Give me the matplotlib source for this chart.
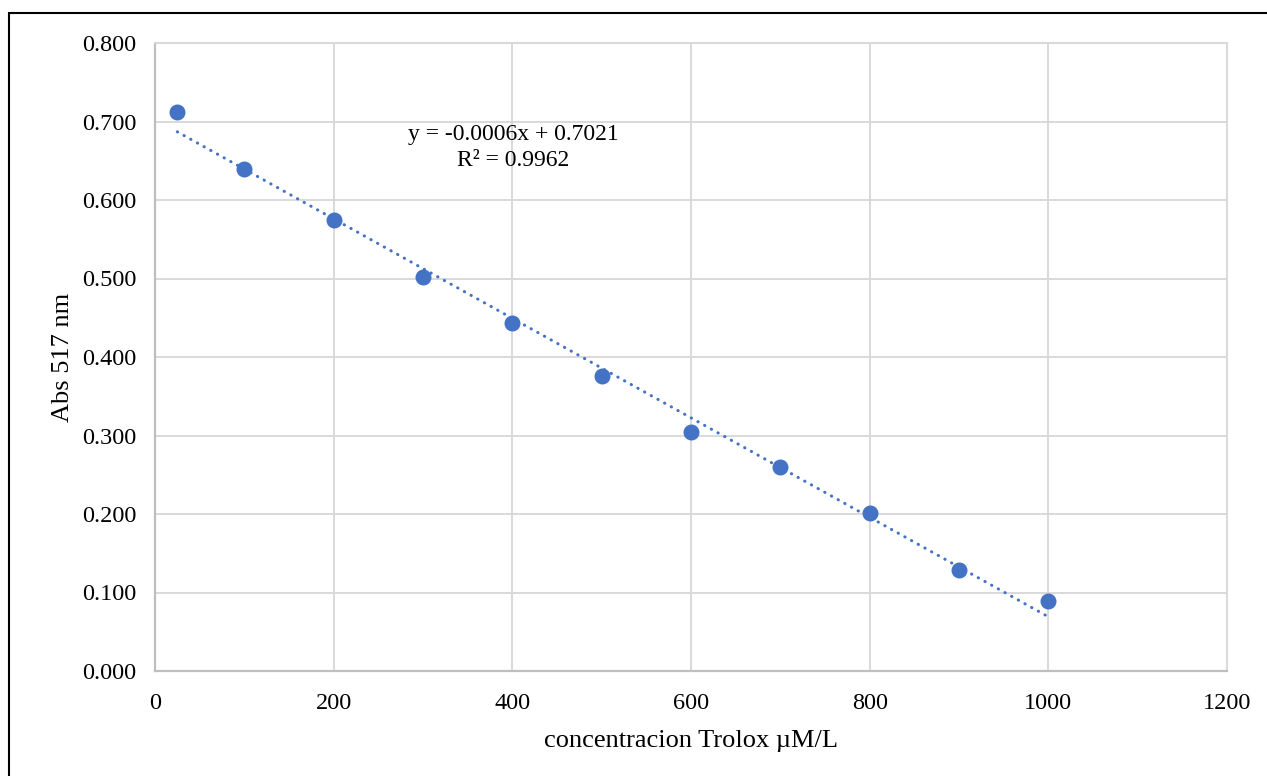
import numpy as np
import matplotlib
matplotlib.use('Agg')
import matplotlib.pyplot as plt
from matplotlib.patches import Rectangle

# concentration (uM/L) and absorbance at 517 nm
conc = [25, 100, 200, 300, 400, 500, 600, 700, 800, 900, 1000]
absorb = [0.712, 0.639, 0.574, 0.502, 0.443, 0.376, 0.304, 0.260, 0.201, 0.129, 0.089]
eq_text = 'y = -0.0006x + 0.7021\nR² = 0.9962'

plt.rcParams['font.family'] = ['Liberation Serif', 'DejaVu Serif']
blue = '#4472C4'

fig = plt.figure(figsize=(12.67, 7.76), dpi=100)
ax = fig.add_axes([155 / 1267, 105 / 776, 1072 / 1267, 628 / 776])

# linear trendline over data range
slope, intercept = np.polyfit(conc, absorb, 1)
xs = np.array([min(conc), max(conc)])
ax.plot(xs, slope * xs + intercept, color=blue, lw=2.2,
        linestyle=(0, (0.1, 2.4)), dash_capstyle='round', zorder=2)
ax.plot(conc, absorb, 'o', color=blue, markersize=10.5, zorder=3)

ax.text(401, 0.667, eq_text, ha='center', va='center', fontsize=17,
        linespacing=1.35, color='#000000')

ax.set_xlim(0, 1200)
ax.set_ylim(0, 0.8)
ax.set_xticks(range(0, 1201, 200))
ax.set_yticks(np.arange(0, 0.81, 0.1))
ax.set_yticklabels([f'{v:.3f}' for v in np.arange(0, 0.81, 0.1)])
ax.tick_params(length=0, labelsize=17.5, colors='#000000')
ax.tick_params(axis='x', pad=15.8)
ax.tick_params(axis='y', pad=13.5)

ax.grid(True, color='#D9D9D9', lw=1.4)
ax.set_axisbelow(True)
for s in ['top', 'right']:
    ax.spines[s].set_color('#D9D9D9')
    ax.spines[s].set_linewidth(1.4)
for s in ['left', 'bottom']:
    ax.spines[s].set_color('#BFBFBF')
    ax.spines[s].set_linewidth(1.6)

ax.set_xlabel('concentracion Trolox µM/L', fontsize=19, labelpad=11.5)
ax.set_ylabel('Abs 517 nm', fontsize=19, labelpad=6)

# outer chart border
fig.patches.append(Rectangle((9 / 1267, -0.05), 1.1, (776 - 13) / 776 + 0.05,
                             transform=fig.transFigure, fill=False,
                             edgecolor='#000000', lw=1.5))

fig.savefig('out.png', dpi=100)
